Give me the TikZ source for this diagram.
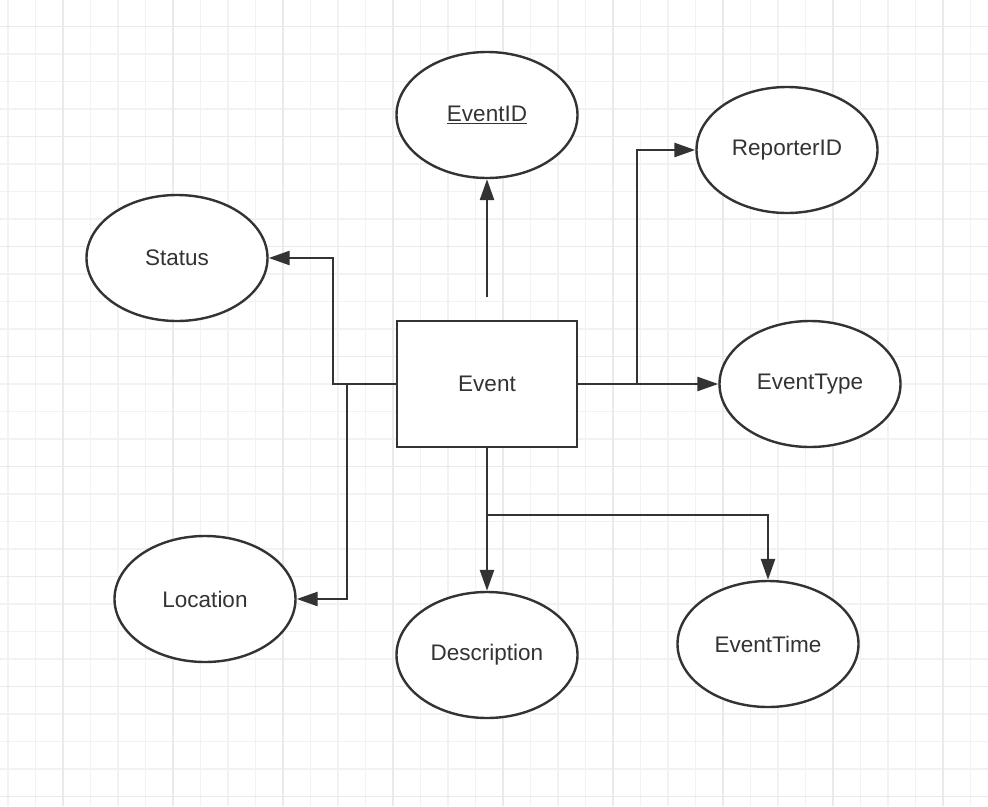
\documentclass[tikz,border=0pt]{standalone}
\usepackage{fontspec}
\setmainfont{Liberation Sans}
\usetikzlibrary{shapes.geometric,arrows.meta}
\definecolor{ink}{RGB}{51,51,51}
\definecolor{gridminor}{RGB}{242,242,242}
\definecolor{gridmajor}{RGB}{234,234,234}
\begin{document}
\begin{tikzpicture}[x=1pt,y=-1pt,
  attr/.style={ellipse,draw=ink,line width=2.4pt,fill=white,minimum width=181pt,minimum height=126pt,inner sep=0pt,text=ink,font=\fontsize{22.5}{27}\selectfont},
  ent/.style={rectangle,draw=ink,line width=2.4pt,fill=white,minimum width=180pt,minimum height=126pt,inner sep=0pt,text=ink,font=\fontsize{22.5}{27}\selectfont},
  arr/.style={draw=ink,line width=2.6pt,-{Triangle[length=21pt,width=14pt]}},
  conn/.style={draw=ink,line width=2.6pt}]
\useasboundingbox (0,0) rectangle (988,806);
\fill[white] (0,0) rectangle (988,806);
% grid
\foreach \i in {0,...,36} {
  \draw[gridminor,line width=1.3pt] (8+27.5*\i,0) -- (8+27.5*\i,806);
}
\foreach \j in {0,...,29} {
  \draw[gridminor,line width=1.3pt] (0,-1+27.5*\j) -- (988,-1+27.5*\j);
}
\foreach \i in {0,...,8} {
  \draw[gridmajor,line width=1.8pt] (63+110*\i,0) -- (63+110*\i,806);
}
\foreach \j in {0,...,7} {
  \draw[gridmajor,line width=1.8pt] (0,26.5+110*\j) -- (988,26.5+110*\j);
}
% nodes
\node[ent] (ev) at (487,384) {Event};
\node[attr] (eid) at (487,115) {\underline{EventID}};
\node[attr] (rep) at (787,150) {ReporterID};
\node[attr] (st) at (177,258) {Status};
\node[attr] (etype) at (810,384) {EventType};
\node[attr] (loc) at (205,599) {Location};
\node[attr] (desc) at (487,655) {Description};
\node[attr] (etime) at (768,644) {EventTime};
% connectors
\coordinate (evtop) at (487,297);
\draw[arr] (evtop) -- (eid.south);
\draw[arr] (ev.west) -- (333,384) |- (st.east);
\draw[arr] (ev.west) -- (347,384) |- (loc.east);
\draw[arr] (ev.east) -- (637,384) |- (rep.west);
\draw[arr] (ev.east) -- (etype.west);
\draw[arr] (ev.south) -- (desc.north);
\draw[arr] (ev.south) -- (487,515) -| (etime.north);
\end{tikzpicture}
\end{document}
